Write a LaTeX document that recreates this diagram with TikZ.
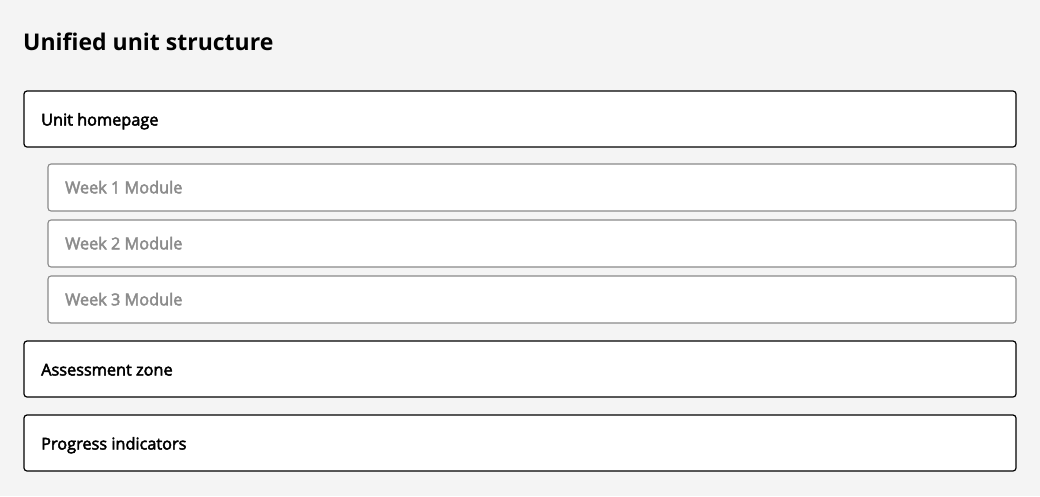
\documentclass[tikz,border=0pt]{standalone}
\usepackage{fontspec}
\setmainfont{Open Sans}
\newfontfamily\semib{Open Sans}[FakeBold=2.8]
\definecolor{bg}{HTML}{F4F4F4}
\definecolor{weekgray}{HTML}{8A8A8A}
\definecolor{weektext}{HTML}{8C8C8C}
\begin{document}
\begin{tikzpicture}[x=1pt,y=-1pt,
  mainbox/.style={draw=black,line width=1.2pt,fill=white,rounded corners=3pt},
  weekbox/.style={draw=weekgray,line width=1.1pt,fill=white,rounded corners=3pt},
  mainlabel/.style={anchor=base west,inner sep=0pt,font=\semib\fontsize{16.3}{19}\selectfont,text=black},
  weeklabel/.style={anchor=base west,inner sep=0pt,font=\semib\fontsize{16.3}{19}\selectfont,text=weektext}]
\fill[bg] (0,0) rectangle (1040,496);
\useasboundingbox (0,0) rectangle (1040,496);
\node[anchor=base west,font=\fontsize{23}{27}\selectfont\bfseries,inner sep=0pt] (title) at (23,50.5) {Unified unit structure};
\draw[mainbox] (24,91) rectangle (1016,147);
\node[mainlabel] (home) at (41,125.5) {Unit homepage};
\draw[weekbox] (48,164) rectangle (1016,211);
\node[weeklabel] (w1) at (65,193.3) {Week 1 Module};
\draw[weekbox] (48,220) rectangle (1016,267);
\node[weeklabel] (w2) at (65,249.3) {Week 2 Module};
\draw[weekbox] (48,276) rectangle (1016,323);
\node[weeklabel] (w3) at (65,305.3) {Week 3 Module};
\draw[mainbox] (24,341) rectangle (1016,397);
\node[mainlabel] (assess) at (41,375.5) {Assessment zone};
\draw[mainbox] (24,415) rectangle (1016,471);
\node[mainlabel] (prog) at (41,449.5) {Progress indicators};
\end{tikzpicture}
\end{document}
